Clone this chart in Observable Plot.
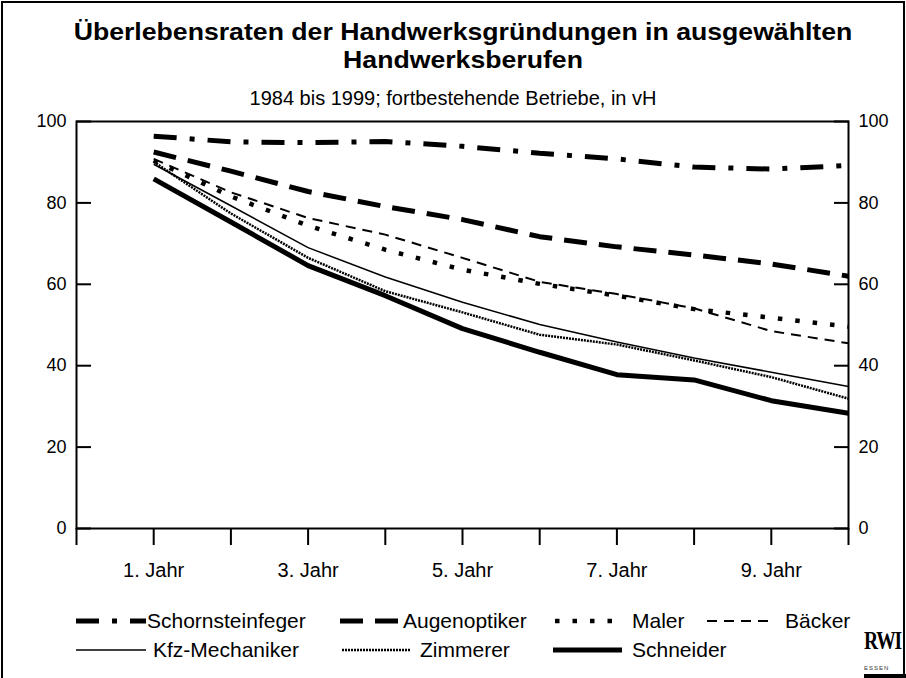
<!DOCTYPE html>
<html>
<head>
<meta charset="utf-8">
<script src="https://cdn.jsdelivr.net/npm/d3@7"></script>
<script src="https://cdn.jsdelivr.net/npm/@observablehq/plot@0.6"></script>
<style>
  html, body { margin: 0; padding: 0; background: #fff; }
  #chart { position: relative; width: 906px; height: 678px; overflow: hidden;
           font-family: "Liberation Sans", Arial, sans-serif; color: #000; background: #fff; }
  #border { position: absolute; left: 1px; top: 1px; width: 900px; height: 690px;
            border: 2px solid #000; pointer-events: none; }
  #title { position: absolute; left: 10px; top: 18px; width: 906px; text-align: center;
           font-weight: bold; font-size: 24px; line-height: 28px;
           transform: scaleX(1.11); transform-origin: 453px 0; }
  #subtitle { position: absolute; left: 0; top: 87px; width: 906px; text-align: center;
              font-size: 20px; line-height: 22px; }
  #plot { position: absolute; left: 0; top: 100px; }
  .leg { position: absolute; height: 22px; display: flex; align-items: center;
         font-size: 21px; line-height: 22px; white-space: nowrap; }
  .leg svg { display: block; }
  #logo { position: absolute; left: 864px; top: 630px; width: 44px; height: 48px; }
  #logo .rwi { font-family: "Liberation Serif", "DejaVu Serif", serif; font-weight: bold;
               font-size: 25px; line-height: 22px; letter-spacing: -1.5px; transform: scaleX(0.78);
               transform-origin: left top; }
  #logo .essen { font-size: 6px; line-height: 8px; margin-top: 12px; letter-spacing: 1px; color: #333; }
  #logo .bar { position: absolute; left: 0; top: 44px; width: 44px; height: 4px; background: #000; }
</style>
</head>
<body>
<div id="chart">
  <div id="title"></div>
  <div id="subtitle"></div>
  <div id="plot"></div>
  <div id="legend"></div>
  <div id="logo"><div class="rwi">RWI</div><div class="essen">ESSEN</div><div class="bar"></div></div>
  <div id="border"></div>
</div>
<script>
// ---- data ----
const titleLines = ["Überlebensraten der Handwerksgründungen in ausgewählten", "Handwerksberufen"];
const subtitleText = "1984 bis 1999; fortbestehende Betriebe, in vH";
const years = [1, 2, 3, 4, 5, 6, 7, 8, 9, 10];
const seriesNames = ["Schornsteinfeger", "Augenoptiker", "Maler", "Bäcker", "Kfz-Mechaniker", "Zimmerer", "Schneider"];
const schornsteinfeger = [96.4, 95.0, 94.8, 95.1, 93.9, 92.2, 90.8, 88.8, 88.3, 89.2];
const augenoptiker     = [92.5, 87.8, 82.8, 79.1, 75.9, 71.7, 69.2, 67.2, 65.0, 62.0];
const maler            = [90.4, 81.6, 74.4, 68.5, 63.6, 60.1, 57.2, 53.9, 51.8, 49.6];
const baecker          = [90.8, 82.6, 76.3, 72.2, 66.5, 60.6, 57.6, 54.1, 48.5, 45.5];
const kfzMechaniker    = [89.5, 79.3, 69.0, 61.8, 55.6, 50.1, 45.8, 41.9, 38.4, 34.9];
const zimmerer         = [90.1, 77.4, 66.5, 58.3, 53.1, 47.6, 45.2, 41.3, 37.2, 31.9];
const schneider        = [85.9, 75.3, 64.6, 57.2, 49.1, 43.3, 37.8, 36.5, 31.4, 28.3];
const seriesValues = [schornsteinfeger, augenoptiker, maler, baecker, kfzMechaniker, zimmerer, schneider];
const yTicks = [0, 20, 40, 60, 80, 100];
const xTicks = [0, 1, 2, 3, 4, 5, 6, 7, 8, 9, 10];
const xLabelYears = [1, 3, 5, 7, 9];

// ---- styles (kept separate from data) ----
const lineStyles = {
  "Schornsteinfeger": {strokeWidth: 5, strokeDasharray: "23,13,5,13"},
  "Augenoptiker":     {strokeWidth: 5, strokeDasharray: "23,12"},
  "Maler":            {strokeWidth: 4.5, strokeDasharray: "4.5,13"},
  "Bäcker":           {strokeWidth: 2, strokeDasharray: "10,7"},
  "Kfz-Mechaniker":   {strokeWidth: 1.5, strokeDasharray: null},
  "Zimmerer":         {strokeWidth: 2.5, strokeDasharray: "2,1"},
  "Schneider":        {strokeWidth: 5, strokeDasharray: null}
};
const legendLayout = {
  "Schornsteinfeger": {left: 76,  top: 610, sw: 70, gap: 1},
  "Augenoptiker":     {left: 340, top: 610, sw: 62, gap: 1},
  "Maler":            {left: 555, top: 610, sw: 58, gap: 19},
  "Bäcker":           {left: 707, top: 610, sw: 68, gap: 10},
  "Kfz-Mechaniker":   {left: 76,  top: 639, sw: 70, gap: 7},
  "Zimmerer":         {left: 342, top: 639, sw: 68, gap: 10},
  "Schneider":        {left: 553, top: 639, sw: 69, gap: 10}
};

// ---- build table ----
const rows = seriesNames.flatMap((name, i) =>
  years.map((year, j) => ({series: name, year, value: seriesValues[i][j]})));

const titleEl = document.getElementById("title");
titleLines.forEach((t, i) => {
  if (i) titleEl.appendChild(document.createElement("br"));
  titleEl.appendChild(document.createTextNode(t));
});
document.getElementById("subtitle").textContent = subtitleText;

const lineMarks = seriesNames.map(name => Plot.line(rows.filter(d => d.series === name), {
  x: "year", y: "value", stroke: "black",
  strokeWidth: lineStyles[name].strokeWidth,
  strokeDasharray: lineStyles[name].strokeDasharray,
  strokeLinecap: "butt", strokeLinejoin: "miter"
}));

const chart = Plot.plot({
  width: 906, height: 488,
  marginTop: 21, marginBottom: 60, marginLeft: 76, marginRight: 58,
  style: {fontFamily: "'Liberation Sans', Arial, sans-serif", fontSize: "18px", color: "black", background: "transparent"},
  x: {domain: [0, 10]},
  y: {domain: [0, 100]},
  marks: [
    ...lineMarks,
    Plot.frame({stroke: "black", strokeWidth: 2}),
    Plot.axisY({anchor: "left", ticks: yTicks, tickSize: -15, tickPadding: 25, strokeWidth: 2, label: null, fontSize: 18}),
    Plot.axisY({anchor: "right", ticks: yTicks, tickSize: -15, tickPadding: 25, strokeWidth: 2, label: null, fontSize: 18}),
    Plot.axisX({anchor: "bottom", ticks: xTicks, tickSize: 17, strokeWidth: 2, tickFormat: () => "", label: null}),
    Plot.axisX({anchor: "bottom", ticks: xLabelYears, tickSize: 0, tickPadding: 34, tickFormat: d => `${d}. Jahr`, label: null, fontSize: 20})
  ]
});
document.getElementById("plot").appendChild(chart);

// ---- legend ----
const legend = document.getElementById("legend");
seriesNames.forEach(name => {
  const L = legendLayout[name], s = lineStyles[name];
  const item = document.createElement("div");
  item.className = "leg";
  item.style.left = L.left + "px";
  item.style.top = L.top + "px";
  const svg = d3.create("svg").attr("width", L.sw).attr("height", 12);
  svg.append("line").attr("x1", 0).attr("x2", L.sw).attr("y1", 6).attr("y2", 6)
    .attr("stroke", "black").attr("stroke-width", s.strokeWidth)
    .attr("stroke-dasharray", s.strokeDasharray);
  item.appendChild(svg.node());
  const label = document.createElement("span");
  label.style.marginLeft = L.gap + "px";
  label.textContent = name;
  item.appendChild(label);
  legend.appendChild(item);
});
</script>
</body>
</html>
